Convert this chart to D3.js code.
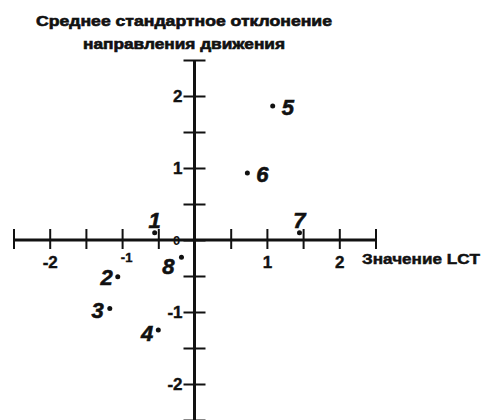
<!DOCTYPE html>
<html>
<head>
<meta charset="utf-8">
<script src="https://cdn.jsdelivr.net/npm/d3@7"></script>
<style>
  body { margin: 0; background: #fff; }
  svg { display: block; }
  text { font-family: "Liberation Sans", Arial, sans-serif; fill: #111; }
  .tick text { font-size: 17px; font-weight: bold; stroke: #111; stroke-width: 0.4px; }
</style>
</head>
<body>
<div id="chart"></div>
<script>
// Chart data
// ================================
var pointIds = ["1", "2", "3", "4", "5", "6", "7", "8"];
var lctValues = [-0.55, -1.06, -1.17, -0.50, 1.08, 0.73, 1.45, -0.18];
var sdValues = [0.10, -0.51, -0.95, -1.25, 1.86, 0.93, 0.10, -0.24];

var tickValues = [-2.5, -2, -1.5, -1, -0.5, 0, 0.5, 1, 1.5, 2, 2.5];
var xTickLabels = ["-2", "-1", "1", "2"];
var yTickLabels = ["2", "1", "-1", "-2"];

var titleLines = ["Среднее стандартное отклонение", "направления движения"];
var xAxisTitle = "Значение LCT";

// Set up chart
// ================================
var svgWidth = 487;
var svgHeight = 420;

var svg = d3.select("#chart")
  .append("svg")
  .attr("width", svgWidth)
  .attr("height", svgHeight);

var xScale = d3.scaleLinear().domain([-2.5, 2.5]).range([13.5, 375.5]);
var yScale = d3.scaleLinear().domain([-2.5, 2.5]).range([420, 60]);

var x0 = xScale(0);
var y0 = yScale(0);

// x axis (ticks cross the line)
var xAxis = d3.axisBottom(xScale)
  .tickValues(tickValues)
  .tickSize(10)
  .tickPadding(0)
  .tickFormat(d => xTickLabels.indexOf(String(d)) >= 0 ? String(d) : "");

var gx = svg.append("g")
  .attr("transform", `translate(0, ${y0})`)
  .call(xAxis)
  .attr("font-family", null);

gx.select(".domain").remove();
gx.selectAll(".tick line")
  .attr("y1", -11)
  .attr("y2", 9)
  .attr("stroke", "#111")
  .attr("stroke-width", 2);
gx.selectAll(".tick text")
  .attr("y", d => d === -1 ? 22 : 28)
  .attr("dy", 0)
  .attr("dx", d => d === -1 ? 4 : 0)
  .style("font-size", d => d === -1 ? "13px" : null);

svg.append("line")
  .attr("x1", xScale(-2.5)).attr("x2", xScale(2.5))
  .attr("y1", y0).attr("y2", y0)
  .attr("stroke", "#111")
  .attr("stroke-width", 3);

// y axis
var yAxis = d3.axisLeft(yScale)
  .tickValues(tickValues)
  .tickSize(11)
  .tickPadding(0)
  .tickFormat(d => yTickLabels.indexOf(String(d)) >= 0 ? String(d) : "");

var gy = svg.append("g")
  .attr("transform", `translate(${x0}, 0)`)
  .call(yAxis)
  .attr("font-family", null);

gy.select(".domain").remove();
gy.selectAll(".tick line")
  .attr("x1", -11)
  .attr("x2", 11)
  .attr("stroke", "#111")
  .attr("stroke-width", 2);
gy.selectAll(".tick text")
  .attr("x", -12);

svg.append("line")
  .attr("x1", x0).attr("x2", x0)
  .attr("y1", yScale(2.5)).attr("y2", yScale(-2.5))
  .attr("stroke", "#111")
  .attr("stroke-width", 3);

// origin label
svg.append("text")
  .attr("x", x0 - 18)
  .attr("y", y0)
  .attr("dy", "0.35em")
  .attr("text-anchor", "middle")
  .style("font-size", "13px")
  .style("font-weight", "bold")
  .text("0");

// points
var points = pointIds.map((id, i) => ({ id: id, x: lctValues[i], y: sdValues[i] }));

// label placement relative to the dot
var labelOffset = {
  "1": { dx: 0, dy: -5, anchor: "middle" },
  "2": { dx: -5, dy: 8, anchor: "end" },
  "3": { dx: -6, dy: 10, anchor: "end" },
  "4": { dx: -5, dy: 11, anchor: "end" },
  "5": { dx: 9, dy: 9, anchor: "start" },
  "6": { dx: 9, dy: 9, anchor: "start" },
  "7": { dx: 0, dy: -5, anchor: "middle" },
  "8": { dx: -7, dy: 17, anchor: "end" }
};

svg.selectAll("circle.pt")
  .data(points)
  .enter()
  .append("circle")
  .classed("pt", true)
  .attr("cx", d => xScale(d.x))
  .attr("cy", d => yScale(d.y))
  .attr("r", 2.5)
  .attr("fill", "#111");

svg.selectAll("text.pt-label")
  .data(points)
  .enter()
  .append("text")
  .classed("pt-label", true)
  .attr("x", d => xScale(d.x) + labelOffset[d.id].dx)
  .attr("y", d => yScale(d.y) + labelOffset[d.id].dy)
  .attr("text-anchor", d => labelOffset[d.id].anchor)
  .style("font-size", "22px")
  .style("font-weight", "bold")
  .style("font-style", "italic")
  .style("stroke", "#111")
  .style("stroke-width", 0.6)
  .text(d => d.id);

// title
svg.selectAll("text.title")
  .data(titleLines)
  .enter()
  .append("text")
  .classed("title", true)
  .attr("x", 184)
  .attr("y", (d, i) => 26 + i * 23)
  .attr("text-anchor", "middle")
  .attr("textLength", (d, i) => i === 0 ? 296 : 202)
  .attr("lengthAdjust", "spacingAndGlyphs")
  .style("font-size", "14px")
  .style("font-weight", "bold")
  .style("stroke", "#111")
  .style("stroke-width", 0.6)
  .text(d => d);

// x axis title
svg.append("text")
  .attr("x", 362)
  .attr("y", y0 + 24)
  .attr("textLength", 118)
  .attr("lengthAdjust", "spacingAndGlyphs")
  .style("font-size", "15px")
  .style("font-weight", "bold")
  .style("stroke", "#111")
  .style("stroke-width", 0.5)
  .text(xAxisTitle);
</script>
</body>
</html>
